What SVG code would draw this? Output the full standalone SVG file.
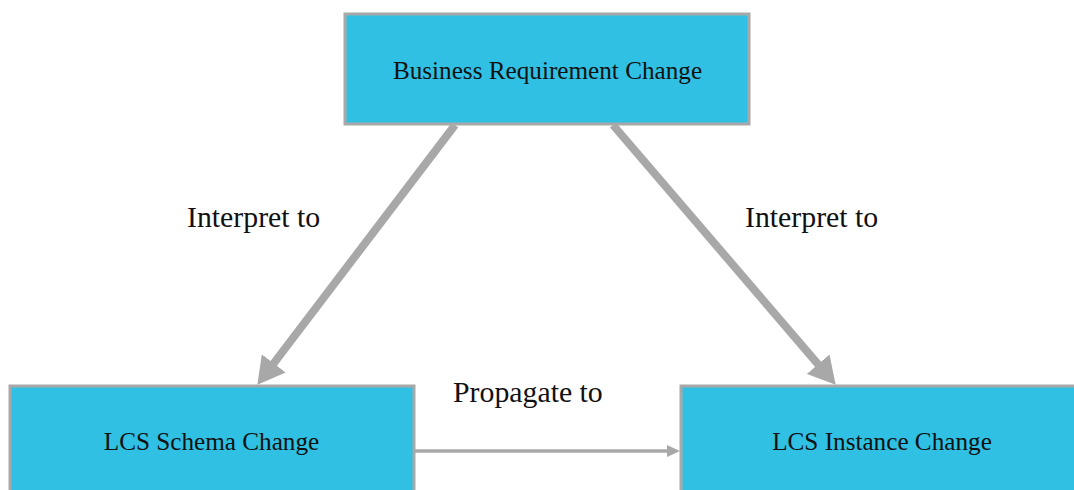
<svg xmlns="http://www.w3.org/2000/svg" width="1074" height="490" viewBox="0 0 1074 490">
  <style>
    .box { fill: #2fc0e3; stroke: #a8a8a8; stroke-width: 3; }
    .btxt { font-family: "Liberation Serif", "Times New Roman", serif; font-size: 25.2px; fill: #111; text-anchor: middle; }
    .ltxt { font-family: "Liberation Serif", "Times New Roman", serif; font-size: 29.8px; fill: #111; }
    .thick { stroke: #a8a8a8; stroke-width: 8; fill: none; }
    .thin { stroke: #a8a8a8; stroke-width: 3.5; fill: none; }
  </style>
  <defs>
    <marker id="bigArrow" markerUnits="userSpaceOnUse" markerWidth="28" markerHeight="30" refX="6" refY="15" orient="auto">
      <path d="M0,0 L27,15 L0,30 z" fill="#a8a8a8"/>
    </marker>
    <marker id="smallArrow" markerUnits="userSpaceOnUse" markerWidth="14" markerHeight="12" refX="3" refY="6" orient="auto">
      <path d="M0,0 L13,6 L0,12 z" fill="#a8a8a8"/>
    </marker>
  </defs>
  <rect width="1074" height="490" fill="#ffffff"/>

  <g id="connectors">
    <line class="thick" x1="455" y1="125" x2="270.1" y2="368.1" marker-end="url(#bigArrow)"/>
    <line class="thick" x1="613" y1="125" x2="822" y2="368.8" marker-end="url(#bigArrow)"/>
    <line class="thin" x1="414" y1="451" x2="670" y2="451" marker-end="url(#smallArrow)"/>
    <text class="ltxt" x="187" y="227">Interpret to</text>
    <text class="ltxt" x="745" y="227">Interpret to</text>
    <text class="ltxt" x="453" y="402">Propagate to</text>
  </g>

  <g id="node-business">
    <rect class="box" x="345" y="14" width="404" height="110"/>
    <text class="btxt" x="547.5" y="79">Business Requirement Change</text>
  </g>

  <g id="node-schema">
    <rect class="box" x="10" y="386" width="404" height="120"/>
    <text class="btxt" x="211.5" y="450">LCS Schema Change</text>
  </g>

  <g id="node-instance">
    <rect class="box" x="681" y="386" width="404" height="120"/>
    <text class="btxt" x="882" y="450">LCS Instance Change</text>
  </g>
</svg>
